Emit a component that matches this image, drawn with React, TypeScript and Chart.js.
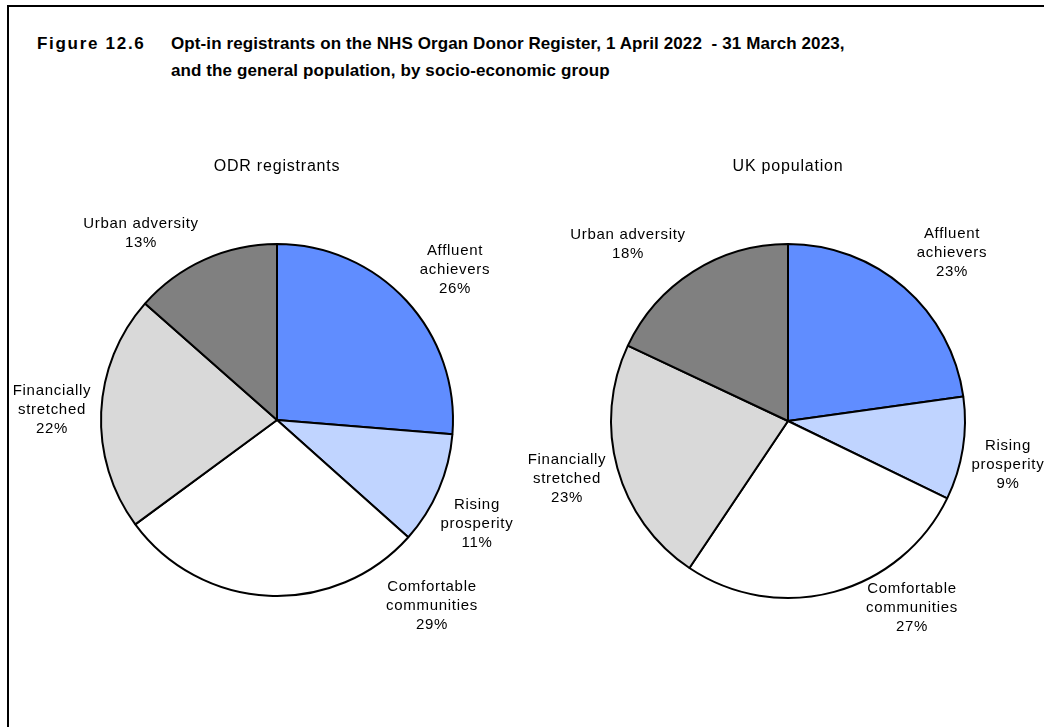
import React, { useEffect, useRef } from "react";
import { Chart, registerables } from "chart.js";

Chart.register(...registerables);

const categories = [
  "Affluent achievers",
  "Rising prosperity",
  "Comfortable communities",
  "Financially stretched",
  "Urban adversity",
];
const categoryLines = [
  ["Affluent", "achievers"],
  ["Rising", "prosperity"],
  ["Comfortable", "communities"],
  ["Financially", "stretched"],
  ["Urban adversity"],
];
const odrValues = [26.3, 10.3, 28.3, 21.6, 13.5];
const ukValues = [22.8, 9.4, 27.2, 22.6, 18.0];
const odrPercentLabels = ["26%", "11%", "29%", "22%", "13%"];
const ukPercentLabels = ["23%", "9%", "27%", "23%", "18%"];
const colors = ["#608DFF", "#C0D4FF", "#FFFFFF", "#D9D9D9", "#808080"];

// label block offsets from pie centre (px)
const odrLabelOffsets = [
  [178, -150],
  [200, 104],
  [155, 186],
  [-225, -10],
  [-136, -187],
];
const ukLabelOffsets = [
  [164, -168],
  [220, 44],
  [124, 187],
  [-221, 58],
  [-160, -177],
];

const FONT = '"Liberation Sans", Arial, Helvetica, sans-serif';

function makeLabelPlugin(subtitle: string, pctLabels: string[], offsets: number[][]) {
  return {
    id: "pieLabels",
    afterDraw(chart: any) {
      const meta = chart.getDatasetMeta(0);
      const arc0 = meta.data[0];
      if (!arc0) return;
      const cx = arc0.x;
      const cy = arc0.y;
      const R = arc0.outerRadius;
      const ctx = chart.ctx;
      ctx.save();
      ctx.fillStyle = "#000";
      ctx.textAlign = "center";
      ctx.textBaseline = "middle";
      // subtitle
      ctx.font = `16px ${FONT}`;
      (ctx as any).letterSpacing = "0.8px";
      ctx.fillText(subtitle, cx, cy - R - 77);
      ctx.font = `15px ${FONT}`;
      (ctx as any).letterSpacing = "0.7px";
      meta.data.forEach((_arc: any, i: number) => {
        const lines = [...categoryLines[i], pctLabels[i]];
        const [dx, dy] = offsets[i];
        const n = lines.length;
        lines.forEach((t, j) => {
          ctx.fillText(t, cx + dx, cy + dy + (j - (n - 1) / 2) * 19);
        });
      });
      ctx.restore();
    },
  };
}

function PieChart(props: {
  values: number[];
  subtitle: string;
  pct: string[];
  offsets: number[][];
  left: number;
  top: number;
  width: number;
  height: number;
  radius: number;
}) {
  const ref = useRef<HTMLCanvasElement>(null);
  useEffect(() => {
    const chart = new Chart(ref.current!, {
      type: "pie",
      data: {
        labels: categories,
        datasets: [
          {
            data: props.values,
            backgroundColor: colors,
            borderColor: "#000000",
            borderWidth: 2,
            radius: props.radius,
          } as any,
        ],
      },
      options: {
        responsive: false,
        animation: false,
        layout: { padding: 0 },
        plugins: {
          legend: { display: false },
          tooltip: { enabled: false },
          title: { display: false },
        },
      },
      plugins: [makeLabelPlugin(props.subtitle, props.pct, props.offsets)],
    });
    return () => chart.destroy();
  }, []);
  return (
    <canvas
      ref={ref}
      width={props.width}
      height={props.height}
      style={{
        position: "absolute",
        left: props.left,
        top: props.top,
        width: props.width,
        height: props.height,
      }}
    />
  );
}

export default function App() {
  return (
    <div
      style={{
        position: "fixed",
        left: 0,
        top: 0,
        width: 1044,
        height: 727,
        overflow: "hidden",
        background: "#fff",
        fontFamily: FONT,
      }}
    >
      <div
        style={{
          position: "absolute",
          left: 7,
          top: 5,
          width: 1200,
          height: 900,
          borderLeft: "2px solid #000",
          borderTop: "2px solid #000",
        }}
      />
      <PieChart
        values={odrValues}
        subtitle="ODR registrants"
        pct={odrPercentLabels}
        offsets={odrLabelOffsets}
        left={9}
        top={140}
        width={536}
        height={560}
        radius={176}
      />
      <PieChart
        values={ukValues}
        subtitle="UK population"
        pct={ukPercentLabels}
        offsets={ukLabelOffsets}
        left={528}
        top={141}
        width={520}
        height={560}
        radius={177}
      />
      <div
        style={{
          position: "absolute",
          left: 37,
          top: 30,
          fontWeight: "bold",
          fontSize: 17,
          lineHeight: "27px",
          letterSpacing: "1.7px",
          whiteSpace: "nowrap",
        }}
      >
        Figure 12.6
      </div>
      <div
        style={{
          position: "absolute",
          left: 171,
          top: 30,
          fontWeight: "bold",
          fontSize: 17,
          lineHeight: "27px",
          letterSpacing: "0.1px",
          whiteSpace: "pre",
        }}
      >
        {"Opt-in registrants on the NHS Organ Donor Register, 1 April 2022  - 31 March 2023,\nand the general population, by socio-economic group"}
      </div>
    </div>
  );
}
